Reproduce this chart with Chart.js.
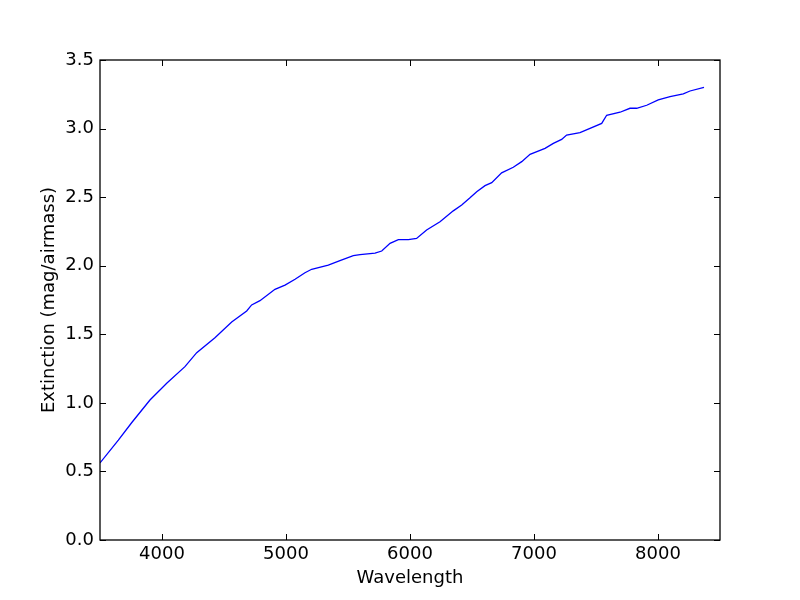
<!DOCTYPE html>
<html>
<head>
<meta charset="utf-8">
<script src="https://cdn.jsdelivr.net/npm/chart.js@4/dist/chart.umd.min.js"></script>
<style>
html,body{margin:0;padding:0;background:#fff;}
#wrap{width:800px;height:600px;position:relative;}
</style>
</head>
<body>
<div id="wrap"><canvas id="c" width="800" height="600"></canvas></div>
<script>
const wavelengths = [3500,3648,3755,3903,4038,4185,4280,4427,4562,4683,4723,4790,4911,4992,5073,5153,5207,5341,5435,5543,5597,5718,5772,5839,5906,5987,6053,6134,6242,6349,6417,6484,6538,6605,6659,6739,6833,6901,6968,7089,7156,7223,7263,7371,7546,7586,7694,7774,7828,7909,8002,8097,8204,8258,8371];
const extinction = [0.562,0.728,0.855,1.021,1.143,1.264,1.366,1.475,1.590,1.670,1.714,1.745,1.828,1.859,1.901,1.949,1.974,2.005,2.037,2.074,2.081,2.091,2.107,2.163,2.190,2.190,2.199,2.260,2.321,2.400,2.443,2.495,2.540,2.584,2.606,2.677,2.718,2.759,2.812,2.856,2.892,2.921,2.953,2.970,3.038,3.097,3.119,3.148,3.148,3.170,3.209,3.233,3.253,3.274,3.301];
const xTicks = [4000,5000,6000,7000,8000];
const yTicks = [0.0,0.5,1.0,1.5,2.0,2.5,3.0,3.5];
const xLabel = 'Wavelength';
const yLabel = 'Extinction (mag/airmass)';

const FONT = "'DejaVu Sans', sans-serif";
const FS = 18;

const framePlugin = {
  id: 'frame',
  afterDatasetsDraw(chart) {
    const ctx = chart.ctx;
    const a = chart.chartArea;
    const xs = chart.scales.x, ys = chart.scales.y;
    ctx.save();
    ctx.strokeStyle = '#000';
    ctx.lineWidth = 1;
    const L = 6;
    ctx.beginPath();
    xs.ticks.forEach(t => {
      const px = Math.round(xs.getPixelForValue(t.value)) + 0.5;
      ctx.moveTo(px, a.bottom); ctx.lineTo(px, a.bottom - L);
      ctx.moveTo(px, a.top); ctx.lineTo(px, a.top + L);
    });
    ys.ticks.forEach(t => {
      const py = Math.round(ys.getPixelForValue(t.value)) + 0.5;
      ctx.moveTo(a.left, py); ctx.lineTo(a.left + L, py);
      ctx.moveTo(a.right, py); ctx.lineTo(a.right - L, py);
    });
    ctx.stroke();
    ctx.lineWidth = 1.3;
    ctx.strokeRect(a.left, a.top, a.right - a.left, a.bottom - a.top);
    ctx.restore();
  }
};

new Chart(document.getElementById('c'), {
  type: 'scatter',
  data: {
    datasets: [{
      data: wavelengths.map((w, i) => ({x: w, y: extinction[i]})),
      showLine: true,
      borderColor: '#0000ff',
      borderWidth: 1.3,
      pointRadius: 0,
      tension: 0,
      fill: false
    }]
  },
  options: {
    responsive: false,
    animation: false,
    devicePixelRatio: 1,
    layout: {padding: {left: 0, top: 60, right: 80, bottom: 0}},
    plugins: {legend: {display: false}, tooltip: {enabled: false}},
    scales: {
      x: {
        type: 'linear', min: 3500, max: 8500,
        afterBuildTicks: s => { s.ticks = xTicks.map(v => ({value: v})); },
        afterFit: s => { s.height = 60; },
        grid: {display: false, drawTicks: false},
        border: {display: false},
        ticks: {color: '#000', font: {family: FONT, size: FS}, padding: 4, maxRotation: 0, autoSkip: false,
                callback: v => String(v)},
        title: {display: true, text: xLabel, color: '#000', font: {family: FONT, size: FS}, padding: {top: 0, bottom: 11}}
      },
      y: {
        type: 'linear', min: 0, max: 3.5,
        afterBuildTicks: s => { s.ticks = yTicks.map(v => ({value: v})); },
        afterFit: s => { s.width = 100; },
        grid: {display: false, drawTicks: false},
        border: {display: false},
        ticks: {color: '#000', font: {family: FONT, size: FS}, padding: 6, autoSkip: false,
                callback: v => Number(v).toFixed(1)},
        title: {display: true, text: yLabel, color: '#000', font: {family: FONT, size: FS}, padding: {top: 39, bottom: 0}}
      }
    }
  },
  plugins: [framePlugin]
});
</script>
</body>
</html>
